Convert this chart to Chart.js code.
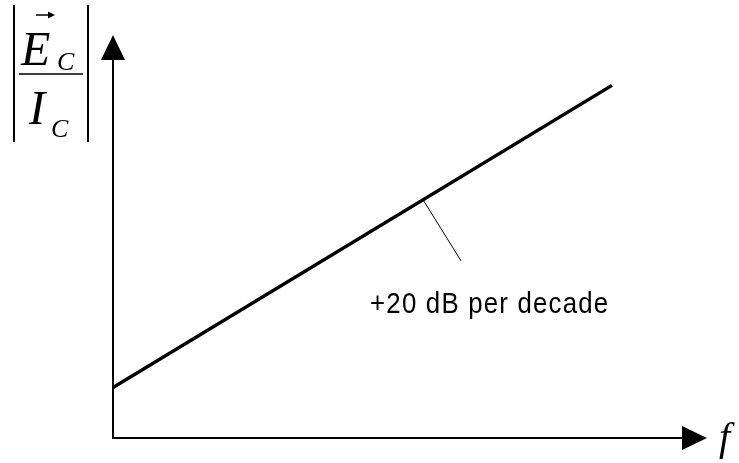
<!DOCTYPE html>
<html>
<head>
<meta charset="utf-8">
<script src="https://cdn.jsdelivr.net/npm/chart.js@4/dist/chart.umd.min.js"></script>
<style>
  html, body { margin: 0; padding: 0; background: #fff; }
  #wrap { width: 739px; height: 463px; position: relative; }
</style>
</head>
<body>
<div id="wrap"><canvas id="bode"></canvas></div>
<script>
// frequency in decades above the start, magnitude in dB
const freqDecades = [0, 4.2];
const gainDb = [14, 98];          // +20 dB per decade
const leaderFreq = [2.61, 2.93];
const leaderGain = [66.2, 49.2];
const slopeLabel = '+20 dB per decade';
const xLabel = 'f';

const toPoints = (xs, ys) => xs.map((x, i) => ({ x: x, y: ys[i] }));

// condensed, letter-spaced text that fills a given width
function spacedText(ctx, text, left, baseline, width, squeeze) {
  const chars = text.split('');
  const widths = chars.map(c => ctx.measureText(c).width * squeeze);
  const total = widths.reduce((a, b) => a + b, 0);
  const gap = (width - total) / (chars.length - 1);
  let x = left;
  chars.forEach((c, i) => {
    ctx.save();
    ctx.translate(x, baseline);
    ctx.scale(squeeze, 1);
    ctx.fillText(c, 0, 0);
    ctx.restore();
    x += widths[i] + gap;
  });
}

// axes with arrow heads, the |E_C / I_C| label and the slope note
const bodeDecor = {
  id: 'bodeDecor',
  afterDatasetsDraw(chart) {
    const ctx = chart.ctx;
    const xs = chart.scales.x, ys = chart.scales.y;
    const area = chart.chartArea;
    const ox = xs.getPixelForValue(0), oy = ys.getPixelForValue(0);

    ctx.save();
    ctx.strokeStyle = '#000';
    ctx.fillStyle = '#000';
    ctx.lineWidth = 2;

    // y axis
    ctx.beginPath();
    ctx.moveTo(ox, oy + 1);
    ctx.lineTo(ox, area.top + 20);
    ctx.stroke();
    ctx.beginPath();
    ctx.moveTo(ox, area.top);
    ctx.lineTo(ox - 12, area.top + 25);
    ctx.lineTo(ox + 12, area.top + 25);
    ctx.closePath();
    ctx.fill();

    // x axis
    ctx.beginPath();
    ctx.moveTo(ox - 1, oy);
    ctx.lineTo(area.right - 20, oy);
    ctx.stroke();
    ctx.beginPath();
    ctx.moveTo(area.right, oy);
    ctx.lineTo(area.right - 25, oy - 12);
    ctx.lineTo(area.right - 25, oy + 12);
    ctx.closePath();
    ctx.fill();

    // f
    ctx.font = 'italic 40px "Liberation Serif", "DejaVu Serif", serif';
    ctx.textAlign = 'left';
    ctx.textBaseline = 'alphabetic';
    ctx.fillText(xLabel, area.right + 12, oy + 12);

    // |E_C / I_C|
    ctx.lineWidth = 2;
    ctx.beginPath();
    ctx.moveTo(14, 5); ctx.lineTo(14, 142);
    ctx.moveTo(88, 5); ctx.lineTo(88, 142);
    ctx.stroke();
    ctx.lineWidth = 1.5;
    ctx.beginPath();
    ctx.moveTo(19, 74); ctx.lineTo(83, 74);
    ctx.stroke();

    ctx.font = 'italic 48px "Liberation Serif", "DejaVu Serif", serif';
    ctx.fillText('E', 21, 65);
    ctx.fillText('I', 29, 124);
    ctx.font = 'italic 26px "Liberation Serif", "DejaVu Serif", serif';
    ctx.fillText('C', 57, 70);
    ctx.fillText('C', 51, 137);

    // vector arrow over E
    ctx.lineWidth = 1.5;
    ctx.beginPath();
    ctx.moveTo(36, 15); ctx.lineTo(51, 15);
    ctx.stroke();
    ctx.beginPath();
    ctx.moveTo(55, 15);
    ctx.lineTo(48, 11.5);
    ctx.lineTo(48, 18.5);
    ctx.closePath();
    ctx.fill();

    // slope note under the leader line
    const lx = xs.getPixelForValue(leaderFreq[1]);
    const ly = ys.getPixelForValue(leaderGain[1]);
    ctx.font = '30px "Liberation Sans", Arial, sans-serif';
    spacedText(ctx, slopeLabel, lx - 91, ly + 52, 238, 0.86);
    ctx.restore();
  }
};

new Chart(document.getElementById('bode'), {
  type: 'scatter',
  data: {
    datasets: [
      {
        data: toPoints(freqDecades, gainDb),
        showLine: true,
        borderColor: '#000',
        borderWidth: 3.5,
        pointRadius: 0
      },
      {
        data: toPoints(leaderFreq, leaderGain),
        showLine: true,
        borderColor: '#000',
        borderWidth: 1,
        pointRadius: 0
      }
    ]
  },
  options: {
    responsive: true,
    maintainAspectRatio: false,
    animation: false,
    layout: { padding: { left: 113, right: 32, top: 35, bottom: 25 } },
    plugins: { legend: { display: false }, tooltip: { enabled: false } },
    scales: {
      x: { type: 'linear', min: 0, max: 5, display: false },
      y: { type: 'linear', min: 0, max: 112, display: false }
    }
  },
  plugins: [bodeDecor]
});
</script>
</body>
</html>
